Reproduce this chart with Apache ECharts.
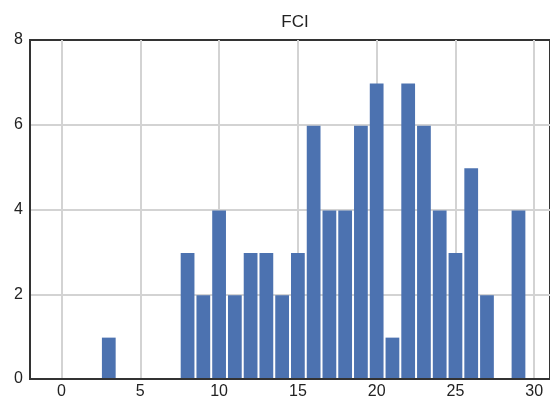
<!DOCTYPE html>
<html>
<head>
<meta charset="utf-8">
<script src="https://cdn.jsdelivr.net/npm/echarts@6/dist/echarts.min.js"></script>
<style>html,body{margin:0;padding:0;background:#fff;}#c{width:550px;height:400px;}</style>
</head>
<body>
<div id="c"></div>
<script>
// Histogram bins (integer-centred, width 1) and their counts
const binCenters = [3, 8, 9, 10, 11, 12, 13, 14, 15, 16, 17, 18, 19, 20, 21, 22, 23, 24, 25, 26, 27, 28, 29];
const counts     = [1, 3, 2, 4, 2, 3, 3, 2, 3, 6, 4, 4, 6, 7, 1, 7, 6, 4, 3, 5, 2, 0, 4];
const binWidth = 1;
const xTicks = [0, 5, 10, 15, 20, 25, 30];
const yTicks = [0, 2, 4, 6, 8];
const titleText = 'FCI';

const chart = echarts.init(document.getElementById('c'), null, {renderer: 'canvas'});
const font = '"Liberation Sans", Arial, sans-serif';
const data = binCenters.map((c, i) => [c, counts[i]]);

chart.setOption({
  backgroundColor: '#ffffff',
  animation: false,
  graphic: [{
    type: 'text', x: 295, y: 14,
    style: {text: titleText, font: '17px ' + font, fill: '#222222', textAlign: 'center', textVerticalAlign: 'top'}
  }],
  grid: {left: 30, top: 40, bottom: 18, width: 529, show: true, borderColor: '#333333', borderWidth: 2, backgroundColor: '#ffffff'},
  xAxis: {
    type: 'value', min: -2, max: 31,
    axisLine: {show: true, onZero: false, lineStyle: {color: '#333333', width: 2}},
    axisTick: {show: false, customValues: xTicks},
    axisLabel: {color: '#222222', fontSize: 16, fontFamily: font, margin: 5,
      customValues: xTicks, formatter: v => String(v)},
    splitLine: {show: true, lineStyle: {color: '#d3d3d3', width: 2}}
  },
  yAxis: {
    type: 'value', min: 0, max: 8, interval: 2,
    axisLine: {show: true, onZero: false, lineStyle: {color: '#333333', width: 2}},
    axisTick: {show: false},
    axisLabel: {color: '#222222', fontSize: 16, fontFamily: font, margin: 7},
    splitLine: {show: true, showMinLine: false, showMaxLine: false, lineStyle: {color: '#d3d3d3', width: 2}}
  },
  series: [{
    type: 'custom',
    data: data,
    renderItem: function (params, api) {
      const c = api.value(0), n = api.value(1);
      if (n <= 0) return null;
      const p0 = api.coord([c - binWidth / 2, n]);
      const p1 = api.coord([c + binWidth / 2, 0]);
      return {
        type: 'rect',
        shape: {x: p0[0] + 1, y: p0[1] + 1, width: p1[0] - p0[0] - 2, height: p1[1] - p0[1] - 2},
        style: {fill: '#4c72b0'}
      };
    }
  }]
});
</script>
</body>
</html>
